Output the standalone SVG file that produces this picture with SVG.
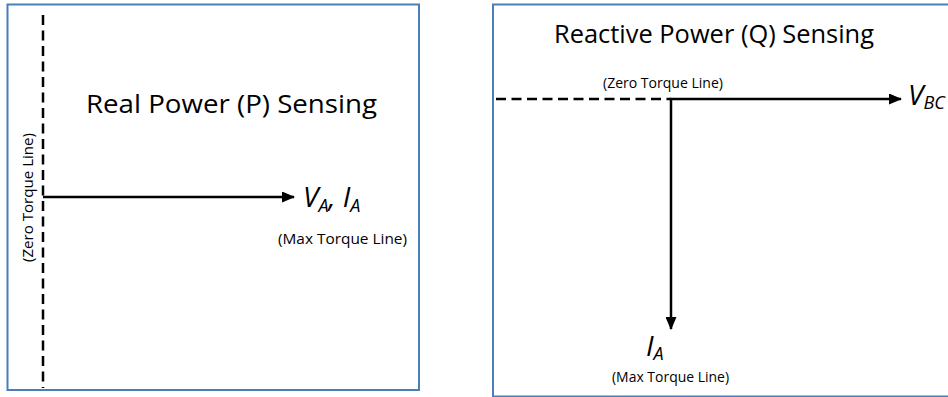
<svg xmlns="http://www.w3.org/2000/svg" width="948" height="397" viewBox="0 0 948 397">
  <defs>
    <marker id="ah" markerWidth="13" markerHeight="11" refX="12" refY="5.5" orient="auto" markerUnits="userSpaceOnUse">
      <path d="M0,0 L13,5.5 L0,11 Z" fill="#000"/>
    </marker>
    <style>
      .frame { fill: #fff; stroke: #4a7ebb; stroke-width: 2; }
      .dash { stroke: #000; stroke-width: 2.5; stroke-dasharray: 10 5.5; fill: none; }
      .solid { stroke: #000; stroke-width: 2.5; fill: none; }
      .title { font-family: "Open Sans", "Noto Sans", sans-serif; font-size: 25px; fill: #000; }
      .small { font-family: "Open Sans", "Noto Sans", sans-serif; font-size: 14px; fill: #000; }
      .var { font-family: "Open Sans", "Noto Sans", sans-serif; font-style: italic; font-size: 28px; fill: #000; }
      .sub { font-size: 18px; }
    </style>
  </defs>

  <g id="panel-p">
    <rect class="frame" x="7.5" y="4.5" width="411.5" height="385.5"/>
    <text class="title" x="86" y="113" textLength="291" lengthAdjust="spacingAndGlyphs">Real Power (P) Sensing</text>
  </g>
  <g id="panel-q">
    <rect class="frame" x="493" y="4.5" width="460" height="392"/>
    <text class="title" x="554" y="43" textLength="320" lengthAdjust="spacingAndGlyphs">Reactive Power (Q) Sensing</text>
  </g>

  <g id="connectors">
    <line class="dash" x1="43" y1="15" x2="43" y2="388"/>
    <line class="solid" x1="43" y1="197" x2="294" y2="197" marker-end="url(#ah)"/>
    <line class="dash" x1="496" y1="99" x2="671" y2="99"/>
    <line class="solid" x1="670" y1="99" x2="901" y2="99" marker-end="url(#ah)"/>
    <line class="solid" x1="671" y1="98" x2="671" y2="329" marker-end="url(#ah)"/>
  </g>

  <g id="label-zero-p">
    <text class="small" transform="translate(33,262) rotate(-90)" textLength="129" lengthAdjust="spacingAndGlyphs">(Zero Torque Line)</text>
  </g>
  <g id="label-va-ia">
    <text class="var" x="303" y="207">V<tspan class="sub" dy="5">A</tspan><tspan dy="-5">, I</tspan><tspan class="sub" dy="5">A</tspan></text>
  </g>
  <g id="label-max-p">
    <text class="small" x="278" y="244" textLength="129" lengthAdjust="spacingAndGlyphs">(Max Torque Line)</text>
  </g>
  <g id="label-zero-q">
    <text class="small" x="603" y="88" textLength="120" lengthAdjust="spacingAndGlyphs">(Zero Torque Line)</text>
  </g>
  <g id="label-vbc">
    <text class="var" x="908" y="105">V<tspan class="sub" dy="4">BC</tspan></text>
  </g>
  <g id="label-ia">
    <text class="var" x="646" y="356">I<tspan class="sub" dy="4">A</tspan></text>
  </g>
  <g id="label-max-q">
    <text class="small" x="612" y="382" textLength="117" lengthAdjust="spacingAndGlyphs">(Max Torque Line)</text>
  </g>
</svg>
